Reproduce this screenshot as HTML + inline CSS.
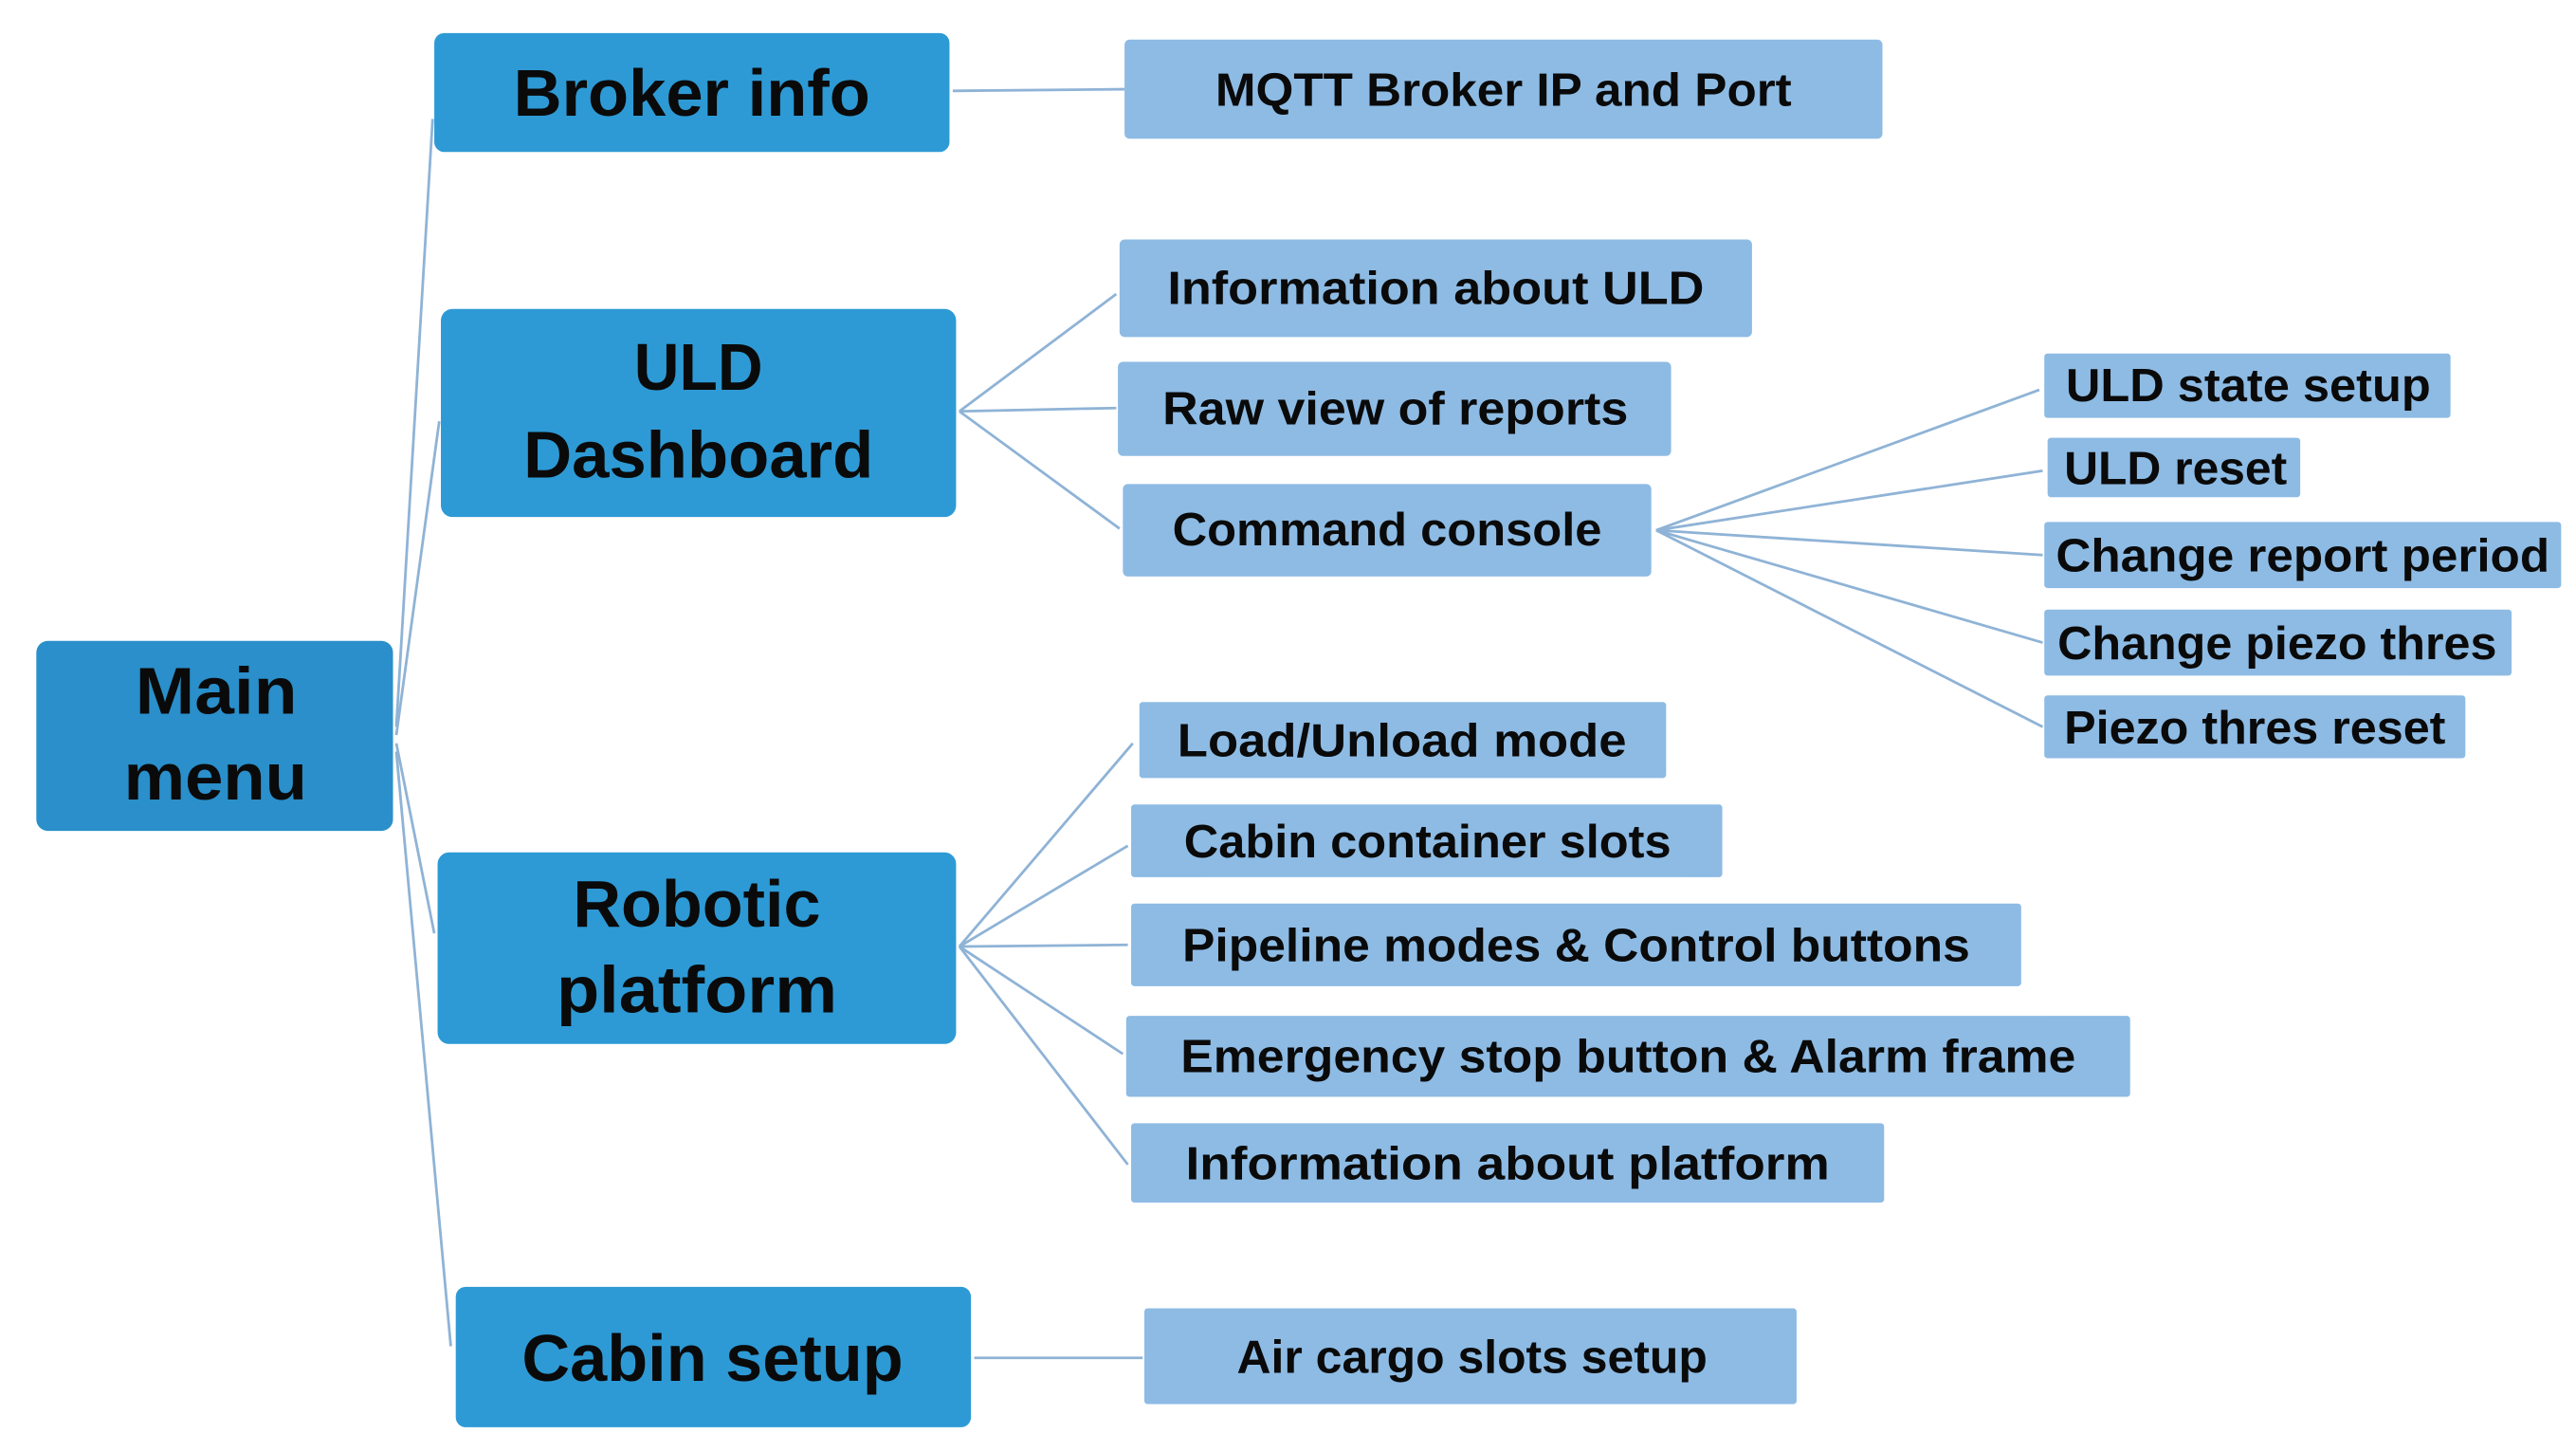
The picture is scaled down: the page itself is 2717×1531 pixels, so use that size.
<!DOCTYPE html>
<html><head><meta charset="utf-8"><style>
html,body{margin:0;padding:0;background:#fff;}
svg{display:block;}
text{font-family:"Liberation Sans",sans-serif;font-weight:bold;fill:#0a0a0a;}
.b{font-size:40px;}
.s{font-size:28px;}
</style></head><body>
<svg width="2717" height="1531" viewBox="0 0 1560 879" preserveAspectRatio="none" xmlns="http://www.w3.org/2000/svg">
<rect width="1560" height="879" fill="#fff"/>
<g stroke="#8fb3d6" stroke-width="1.6" fill="none">
<line x1="240" y1="440" x2="262" y2="72"/>
<line x1="240" y1="445" x2="266" y2="255"/>
<line x1="240" y1="450" x2="263" y2="565"/>
<line x1="240" y1="455" x2="273" y2="815"/>
<line x1="577" y1="55" x2="681" y2="54"/>
<line x1="581" y1="249" x2="676" y2="178"/>
<line x1="581" y1="249" x2="676" y2="247"/>
<line x1="581" y1="249" x2="678" y2="320"/>
<line x1="1003" y1="321" x2="1235" y2="236"/>
<line x1="1003" y1="321" x2="1237" y2="285"/>
<line x1="1003" y1="321" x2="1237" y2="336"/>
<line x1="1003" y1="321" x2="1237" y2="389"/>
<line x1="1003" y1="321" x2="1237" y2="440"/>
<line x1="581" y1="573" x2="686" y2="450"/>
<line x1="581" y1="573" x2="683" y2="512"/>
<line x1="581" y1="573" x2="683" y2="572"/>
<line x1="581" y1="573" x2="680" y2="638"/>
<line x1="581" y1="573" x2="683" y2="705"/>
<line x1="590" y1="822" x2="692" y2="822"/>
</g>
<g fill="#2d9ad5">
<rect x="22" y="388" width="216" height="115" rx="7" fill="#2a8fca"/>
<rect x="263" y="20" width="312" height="72" rx="6"/>
<rect x="267" y="187" width="312" height="126" rx="7"/>
<rect x="265" y="516" width="314" height="116" rx="7"/>
<rect x="276" y="779" width="312" height="85" rx="6"/>
</g>
<g fill="#8dbbe4">
<rect x="681" y="24" width="459" height="60" rx="3"/>
<rect x="678" y="145" width="383" height="59" rx="3"/>
<rect x="677" y="219" width="335" height="57" rx="3"/>
<rect x="680" y="293" width="320" height="56" rx="3"/>
<rect x="1238" y="214" width="246" height="39" rx="2"/>
<rect x="1240" y="265" width="153" height="36" rx="2"/>
<rect x="1238" y="316" width="313" height="40" rx="2"/>
<rect x="1238" y="369" width="283" height="40" rx="2"/>
<rect x="1238" y="421" width="255" height="38" rx="2"/>
<rect x="690" y="425" width="319" height="46" rx="2"/>
<rect x="685" y="487" width="358" height="44" rx="2"/>
<rect x="685" y="547" width="539" height="50" rx="2"/>
<rect x="682" y="615" width="608" height="49" rx="2"/>
<rect x="685" y="680" width="456" height="48" rx="2"/>
<rect x="693" y="792" width="395" height="58" rx="2"/>
</g>
<g class="b" text-anchor="start" lengthAdjust="spacingAndGlyphs">
<text x="82" y="432" textLength="98" lengthAdjust="spacingAndGlyphs">Main</text>
<text x="75" y="484" textLength="111" lengthAdjust="spacingAndGlyphs">menu</text>
<text x="311" y="70" textLength="216" lengthAdjust="spacingAndGlyphs">Broker info</text>
<text x="384" y="236" textLength="78" lengthAdjust="spacingAndGlyphs">ULD</text>
<text x="317" y="289" textLength="212" lengthAdjust="spacingAndGlyphs">Dashboard</text>
<text x="347" y="561" textLength="150" lengthAdjust="spacingAndGlyphs">Robotic</text>
<text x="337" y="613" textLength="170" lengthAdjust="spacingAndGlyphs">platform</text>
<text x="316" y="836" textLength="231" lengthAdjust="spacingAndGlyphs">Cabin setup</text>
</g>
<g class="s">
<text x="736" y="64" textLength="349" lengthAdjust="spacingAndGlyphs">MQTT Broker IP and Port</text>
<text x="707" y="184" textLength="325" lengthAdjust="spacingAndGlyphs">Information about ULD</text>
<text x="704" y="257" textLength="282" lengthAdjust="spacingAndGlyphs">Raw view of reports</text>
<text x="710" y="330" textLength="260" lengthAdjust="spacingAndGlyphs">Command console</text>
<text x="1251" y="243" textLength="221" lengthAdjust="spacingAndGlyphs">ULD state setup</text>
<text x="1250" y="293" textLength="135" lengthAdjust="spacingAndGlyphs">ULD reset</text>
<text x="1245" y="346" textLength="299" lengthAdjust="spacingAndGlyphs">Change report period</text>
<text x="1246" y="399" textLength="266" lengthAdjust="spacingAndGlyphs">Change piezo thres</text>
<text x="1250" y="450" textLength="231" lengthAdjust="spacingAndGlyphs">Piezo thres reset</text>
<text x="713" y="458" textLength="272" lengthAdjust="spacingAndGlyphs">Load/Unload mode</text>
<text x="717" y="519" textLength="295" lengthAdjust="spacingAndGlyphs">Cabin container slots</text>
<text x="716" y="582" textLength="477" lengthAdjust="spacingAndGlyphs">Pipeline modes &amp; Control buttons</text>
<text x="715" y="649" textLength="542" lengthAdjust="spacingAndGlyphs">Emergency stop button &amp; Alarm frame</text>
<text x="718" y="714" textLength="390" lengthAdjust="spacingAndGlyphs">Information about platform</text>
<text x="749" y="831" textLength="285" lengthAdjust="spacingAndGlyphs">Air cargo slots setup</text>
</g>
</svg>
</body></html>
